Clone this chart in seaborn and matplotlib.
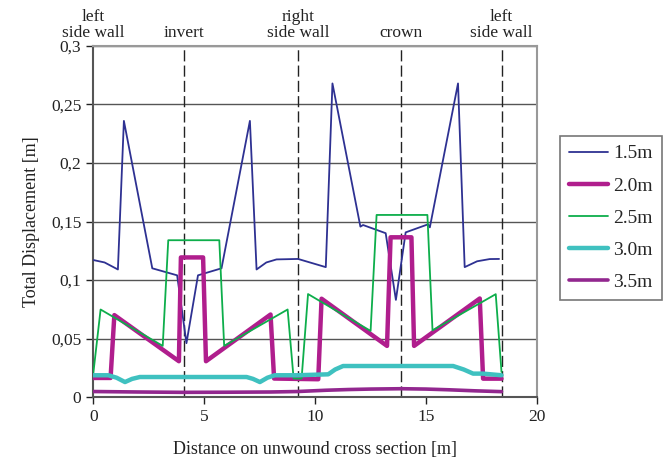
import numpy as np
import pandas as pd
import seaborn as sns
import matplotlib.pyplot as plt

# values
x_15 = [0.02, 0.51, 1.11, 1.38, 2.66, 3.78, 4.2, 4.72, 5.78, 7.06, 7.36, 7.8, 8.26, 9.23, 10.48,
        10.78, 12.04, 12.16, 13.18, 13.64, 14.08, 15.09, 15.17, 16.44, 16.74, 17.3, 17.87, 18.29]
y_15 = [0.117, 0.115, 0.109, 0.236, 0.110, 0.104, 0.046, 0.104, 0.110, 0.236, 0.109, 0.115, 0.1176, 0.118, 0.111,
        0.268, 0.1456, 0.147, 0.140, 0.083, 0.1407, 0.1476, 0.145, 0.268, 0.111, 0.116, 0.1179, 0.118]

x_20 = [0.0, 0.78, 0.95, 3.86, 3.95, 4.95, 5.08, 7.99, 8.15, 10.14, 10.29, 13.24, 13.4, 14.34, 14.46,
        17.42, 17.57, 18.4]
y_20 = [0.0163, 0.0163, 0.070, 0.0306, 0.1193, 0.1193, 0.0306, 0.0705, 0.0158, 0.0152, 0.084, 0.0437, 0.1365,
        0.1365, 0.0437, 0.0842, 0.0157, 0.0157]

x_25 = [0.0, 0.33, 3.13, 3.38, 5.68, 5.9, 8.76, 9.03, 9.39, 9.68, 12.5, 12.77, 15.06, 15.29, 18.14, 18.4]
y_25 = [0.020, 0.0748, 0.0437, 0.134, 0.134, 0.0437, 0.0748, 0.0158, 0.0158, 0.088, 0.0565, 0.1556, 0.1556,
        0.057, 0.0879, 0.0214]

x_30 = [0.0, 0.68, 1.05, 1.43, 1.75, 2.1, 6.91, 7.2, 7.51, 7.85, 8.18, 9.16, 10.59, 10.9, 11.26, 16.22,
        16.7, 17.12, 17.57, 18.4]
y_30 = [0.0186, 0.0186, 0.0165, 0.0128, 0.0155, 0.0171, 0.0171, 0.0155, 0.0128, 0.0165, 0.0186, 0.0186,
        0.0194, 0.0235, 0.0265, 0.0265, 0.0235, 0.020, 0.020, 0.0186]

x_35 = [0.0, 2.0, 4.0, 6.0, 8.0, 9.2, 10.5, 11.5, 12.5, 13.9, 15.0, 16.0, 17.2, 18.4]
y_35 = [0.0047, 0.0043, 0.0040, 0.0041, 0.0043, 0.0047, 0.0058, 0.0064, 0.0068, 0.0071, 0.0068, 0.0062, 0.0053, 0.0046]

names = ['1.5m', '2.0m', '2.5m', '3.0m', '3.5m']
colors = ['#2E3192', '#B01E8D', '#0DAE4B', '#3FC1C0', '#92278F']
widths = [1.3, 3.2, 1.3, 3.2, 2.6]

sections = ['left\nside wall', 'invert', 'right\nside wall', 'crown', 'left\nside wall']
section_x = [0.0, 4.1, 9.23, 13.87, 18.4]

sns.set_theme(style='white')
plt.rcParams['font.family'] = ['Liberation Serif', 'DejaVu Serif']

fig = plt.figure(figsize=(6.71, 4.74), dpi=100)
ax = fig.add_axes([0.139, 0.1624, 0.6613, 0.7406])

series = [(x_15, y_15), (x_20, y_20), (x_25, y_25), (x_30, y_30), (x_35, y_35)]
for (xs, ys), nm, c, w in zip(series, names, colors, widths):
    df = pd.DataFrame({'x': xs, 'y': ys})
    sns.lineplot(data=df, x='x', y='y', ax=ax, color=c, lw=w, label=nm,
                 sort=False, estimator=None, zorder=3)

ax.set_xlim(0, 20)
ax.set_ylim(0, 0.3)
ax.set_xticks([0, 5, 10, 15, 20])
ax.set_yticks(np.arange(0, 0.301, 0.05))
ax.set_yticklabels(['0', '0,05', '0,1', '0,15', '0,2', '0,25', '0,3'])
ax.yaxis.grid(True, color='#555555', lw=1)
ax.xaxis.grid(False)
ax.tick_params(axis='both', labelsize=12.5, colors='#222222', length=5, width=1,
               direction='out', bottom=True, left=True)

for sp in ax.spines.values():
    sp.set_color('#999999')
    sp.set_linewidth(1.5)
ax.spines['left'].set_color('#555555')
ax.spines['bottom'].set_color('#555555')

for sx, lab in zip(section_x, sections):
    if sx > 0:
        ax.axvline(sx, color='#222222', lw=1, ls=(0, (8, 3)), zorder=2)
    ax.text(sx, 1.0 + 0.015, lab, transform=ax.get_xaxis_transform(), ha='center', va='bottom',
            fontsize=12.5, color='#222222', linespacing=0.95)

ax.set_xlabel('Distance on unwound cross section [m]', fontsize=13, color='#222222', labelpad=12)
ax.set_ylabel('Total Displacement [m]', fontsize=13, color='#222222', labelpad=8)

leg = ax.legend(loc='center left', bbox_to_anchor=(1.052, 0.51), borderaxespad=0, fontsize=14,
                frameon=True, fancybox=False, edgecolor='#555555', handlelength=2.0,
                handletextpad=0.3, labelspacing=0.75, borderpad=0.45)
leg.get_frame().set_linewidth(1.2)

fig.savefig('out.png', dpi=100)
